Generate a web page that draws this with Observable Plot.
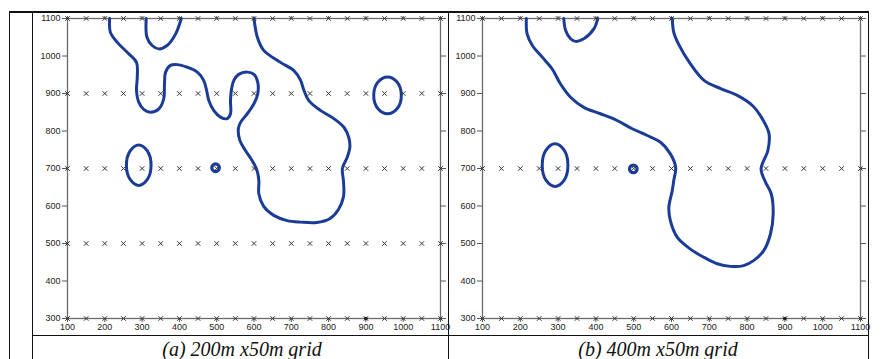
<!DOCTYPE html>
<html><head><meta charset="utf-8">
<script src="https://cdn.jsdelivr.net/npm/d3@7"></script>
<script src="https://cdn.jsdelivr.net/npm/@observablehq/plot@0.6"></script>
<style>
html,body{margin:0;padding:0;background:#fff;}
#wrap{position:relative;width:889px;height:359px;overflow:hidden;background:#fff;}
.panel{position:absolute;top:0;}
.panel svg{overflow:visible;display:block;}
.cap{position:absolute;font-family:"Liberation Serif","Times New Roman",serif;font-style:italic;font-size:20px;line-height:20px;color:#111;text-align:center;white-space:nowrap;}
.ln{position:absolute;background:#111;}
</style></head><body>
<div id="wrap">
  <div id="pa" class="panel" style="left:0px"></div>
  <div id="pb" class="panel" style="left:448px"></div>
  <div class="ln" style="left:9px;top:11px;width:860px;height:2px"></div>
  <div class="ln" style="left:9px;top:11px;width:1px;height:348px"></div>
  <div class="ln" style="left:32px;top:11px;width:1px;height:348px"></div>
  <div class="ln" style="left:448px;top:11px;width:1px;height:348px"></div>
  <div class="ln" style="left:868px;top:11px;width:1px;height:348px"></div>
  <div class="ln" style="left:32px;top:335px;width:837px;height:1px"></div>
  <div class="cap" id="capA" style="left:34px;top:339px;width:416px"></div>
  <div class="cap" id="capB" style="left:448px;top:339px;width:420px"></div>
</div>
<script>
// ---- data ----
const xTicks = [100,200,300,400,500,600,700,800,900,1000,1100];
const yTicks = [300,400,500,600,700,800,900,1000,1100];
const stationX = [100,150,200,250,300,350,400,450,500,550,600,650,700,750,800,850,900,950,1000,1050,1100];
const rowsA = [1100,900,700,500,300];
const rowsB = [1100,700,300];
const benchmark = [[900,300]];
const captionA = "(a) 200m x50m grid";
const captionB = "(b) 400m x50m grid";

const contourA_main = [[213,1100],[215,1063],[233,1037],[264,1006],[285,983],[287,943],[285,908],[291,877],[305,857],[323,850],[345,859],[358,886],[360,926],[363,957],[376,975],[394,977],[421,970],[448,957],[465,935],[473,908],[479,881],[492,855],[510,837],[528,833],[537,846],[537,881],[540,913],[546,935],[559,951],[582,957],[600,951],[610,930],[610,899],[600,873],[582,846],[564,823],[558,806],[562,775],[577,748],[595,721],[608,695],[613,668],[613,632],[626,599],[653,575],[689,561],[725,557],[768,556],[803,566],[826,590],[840,625],[840,665],[837,700],[850,730],[857,757],[854,783],[841,810],[814,833],[778,855],[747,881],[734,908],[725,935],[707,961],[671,983],[626,1015],[609,1050],[600,1100]];
const contourA_u = [[311,1100],[313,1050],[327,1028],[345,1019],[367,1028],[390,1059],[405,1100]];
const loopA_950 = [[958,944],[984,930],[995,895],[984,860],[958,846],[932,860],[921,895],[932,930]];
const loopA_300 = [[291,763],[314,747],[324,709],[314,671],[291,655],[268,671],[258,709],[268,747]];
const ringA = [[497,702]];

const contourB_main = [[216,1100],[218,1059],[232,1028],[258,997],[284,966],[306,926],[333,890],[368,863],[412,846],[456,828],[496,806],[536,788],[571,770],[597,739],[611,703],[606,668],[602,641],[593,597],[597,561],[615,517],[650,485],[686,463],[721,446],[756,439],[791,441],[818,455],[844,481],[862,526],[869,579],[864,632],[849,663],[837,699],[855,748],[858,793],[840,833],[814,868],[774,895],[730,913],[686,935],[650,979],[618,1033],[606,1063],[602,1100]];
const contourB_u = [[315,1100],[320,1068],[333,1046],[346,1039],[368,1046],[395,1073],[405,1100]];
const loopB_300 = [[292,766],[316,749],[326,709],[316,669],[292,652],[268,669],[258,709],[268,749]];
const ringB = [[499,699]];

// ---- drawing ----
const BLUE = "#1a3c96";
const fmt = d => String(d);
function panel(el, width, marginLeft, rows, openCurves, closedCurves, rings) {
  const stations = rows.flatMap(y => stationX.map(x => ({x, y})));
  const chart = Plot.plot({
    width, height: 335,
    marginLeft, marginRight: 8, marginTop: 18, marginBottom: 17,
    x: {domain: [100, 1100]},
    y: {domain: [300, 1100]},
    style: {fontFamily: "'Liberation Sans', Arial, sans-serif", fontSize: "9px", color: "#222", background: "transparent", overflow: "visible"},
    marks: [
      Plot.frame({stroke: "#6a6a6a", strokeWidth: 1.3}),
      Plot.axisY({ticks: yTicks, anchor: "left", tickSize: 5, tickPadding: 2, tickFormat: fmt, label: null, stroke: "#555"}),
      Plot.axisY({ticks: yTicks, anchor: "right", tickSize: 5, tickFormat: () => "", label: null, stroke: "#555"}),
      Plot.axisX({ticks: xTicks, anchor: "bottom", tickSize: 4, tickPadding: 1, tickFormat: fmt, label: null, stroke: "#555"}),
      Plot.axisX({ticks: xTicks, anchor: "top", tickSize: 3, tickFormat: () => "", label: null, stroke: "#555"}),
      ...openCurves.map(c => Plot.line(c, {x: d => d[0], y: d => d[1], curve: "catmull-rom", stroke: BLUE, strokeWidth: 3})),
      ...closedCurves.map(c => Plot.line(c, {x: d => d[0], y: d => d[1], curve: "catmull-rom-closed", stroke: BLUE, strokeWidth: 3})),
      Plot.dot(rings, {x: d => d[0], y: d => d[1], r: 3.8, stroke: BLUE, strokeWidth: 3.2, fill: "none"}),
      Plot.dot(stations, {x: "x", y: "y", symbol: "times", r: 2.2, stroke: "#333", strokeWidth: 1}),
      Plot.dot(benchmark, {x: d => d[0], y: d => d[1], r: 1.8, fill: "#222"})
    ]
  });
  document.getElementById(el).appendChild(chart);
}
panel("pa", 448, 67, rowsA, [contourA_main, contourA_u], [loopA_950, loopA_300], ringA);
panel("pb", 420, 34, rowsB, [contourB_main, contourB_u], [loopB_300], ringB);
document.getElementById("capA").textContent = captionA;
document.getElementById("capB").textContent = captionB;
</script>
</body></html>
